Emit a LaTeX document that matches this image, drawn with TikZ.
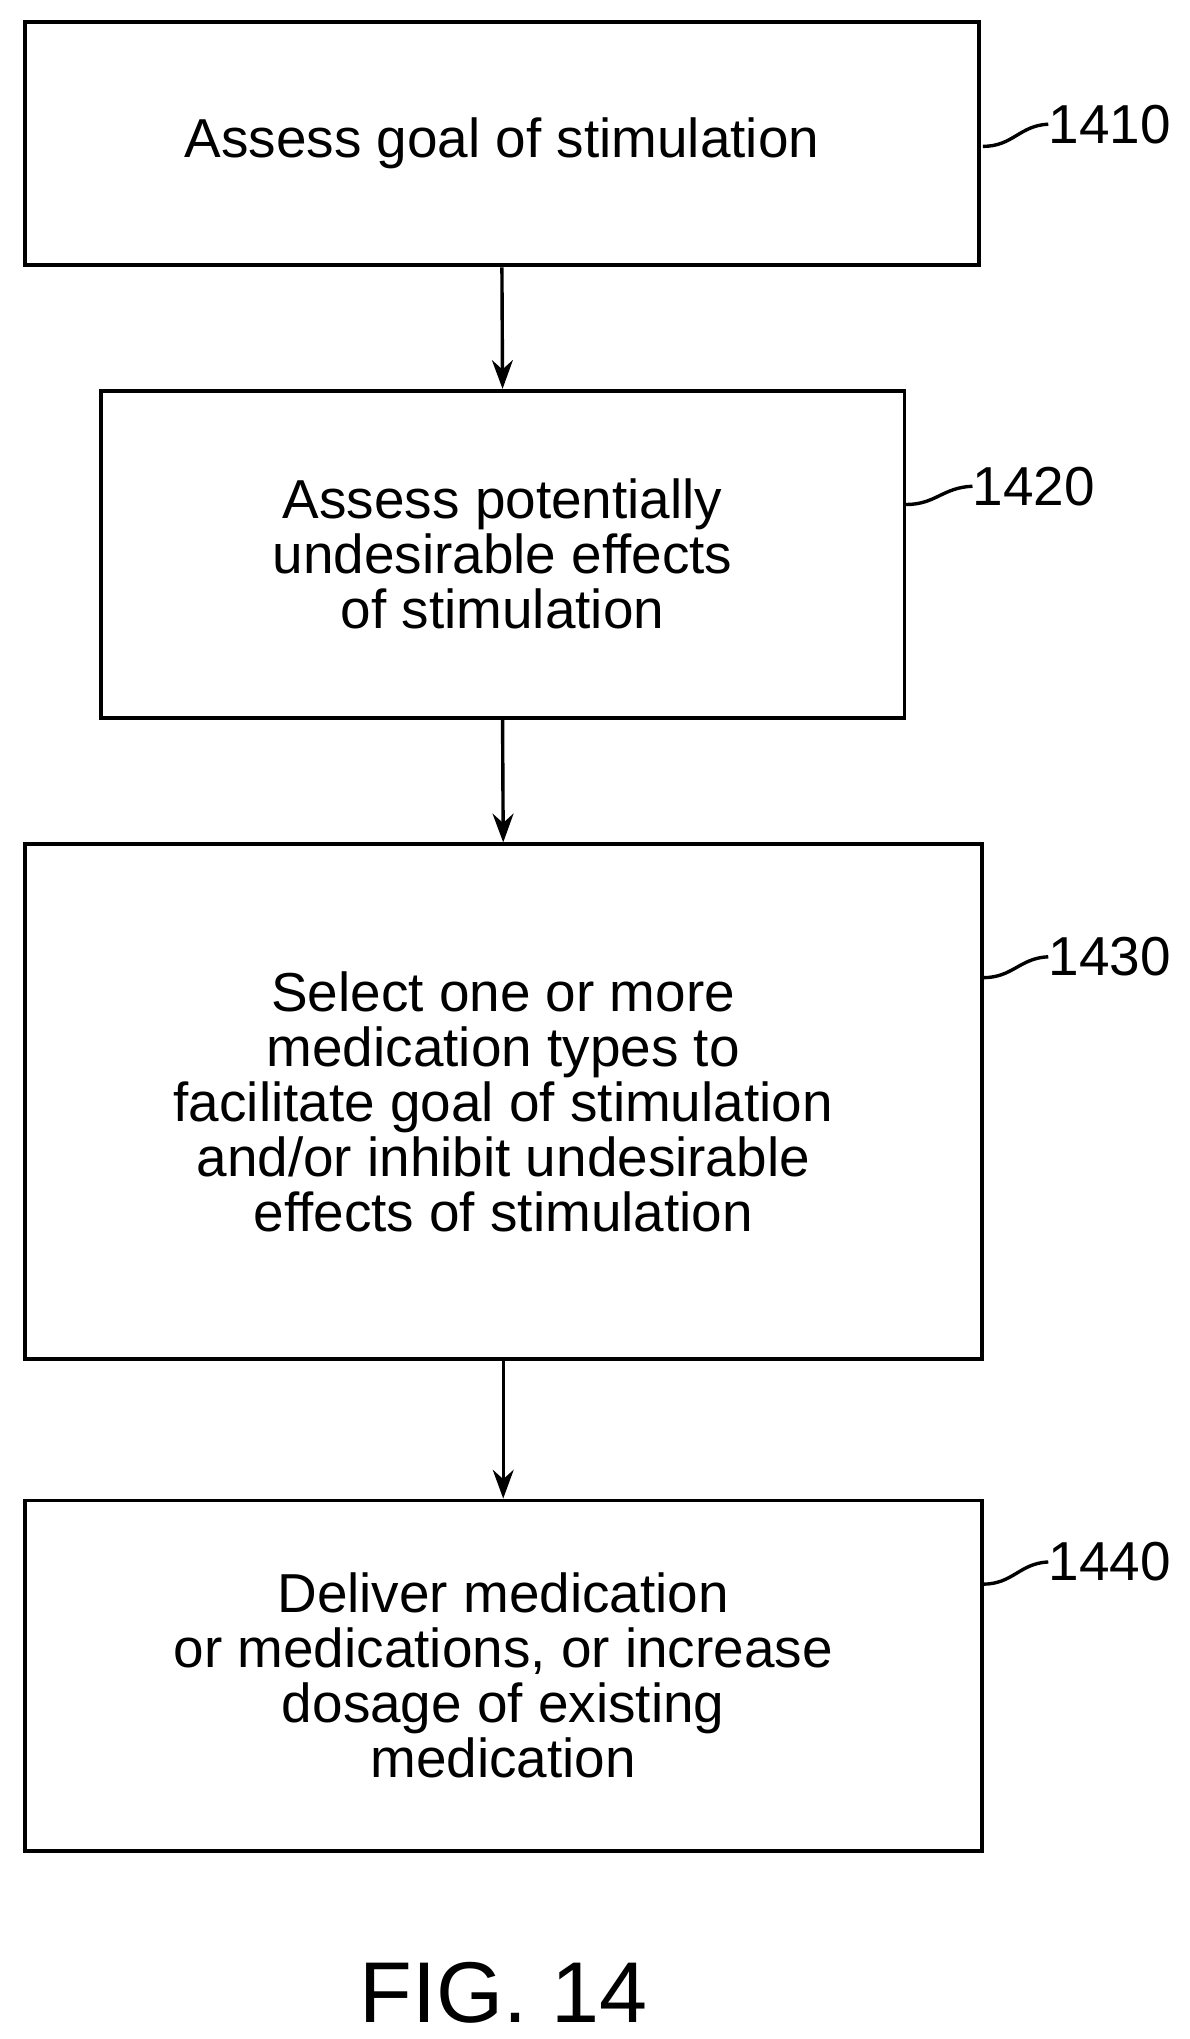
\documentclass[tikz,border=0pt]{standalone}
\usepackage{fontspec}
\setmainfont{Liberation Sans}
\usetikzlibrary{arrows.meta}
\begin{document}
\begin{tikzpicture}[x=1pt,y=-1pt,
  box/.style={draw,line width=3pt,inner sep=0pt,align=center,font=\fontsize{42}{42}\selectfont},
  lab/.style={font=\fontsize{42}{42}\selectfont,anchor=west,inner sep=0pt},
  arr/.style={line width=2.6pt,-{Stealth[length=22pt,width=16pt]}},
  lead/.style={line width=2.6pt}]
\useasboundingbox (0,0) rectangle (910,1560);
\node[box,minimum width=730pt,minimum height=186pt] (b1) at (384,110) {Assess goal of stimulation};
\node[box,minimum width=615pt,minimum height=250pt] (b2) at (384.5,424) {Assess potentially\\undesirable effects\\of stimulation};
\node[box,minimum width=732pt,minimum height=394pt] (b3) at (385,843) {Select one or more\\medication types to\\facilitate goal of stimulation\\and/or inhibit undesirable\\effects of stimulation};
\node[box,minimum width=732pt,minimum height=268pt] (b4) at (385,1282) {Deliver medication\\or medications, or increase\\dosage of existing\\medication};
\draw[arr] (b1.south) -- (b2.north);
\draw[arr] (b2.south) -- (b3.north);
\draw[arr] (b3.south) -- (b4.north);
\node[lab] (l1) at (802,95) {1410};
\node[lab] (l2) at (744,372) {1420};
\node[lab] (l3) at (802,732) {1430};
\node[lab] (l4) at (802,1195) {1440};
\coordinate (c1) at (752,112); \coordinate (c2) at (693,386);
\coordinate (c3) at (752,748); \coordinate (c4) at (752,1212);
\draw[lead] (c1) .. controls (775,112) and (780,96) .. (l1.west);
\draw[lead] (c2) .. controls (716,386) and (721,373) .. (l2.west);
\draw[lead] (c3) .. controls (775,748) and (780,733) .. (l3.west);
\draw[lead] (c4) .. controls (775,1212) and (780,1196) .. (l4.west);
\node[font=\fontsize{66}{70}\selectfont] (fig) at (385,1525) {FIG. 14};
\end{tikzpicture}
\end{document}
